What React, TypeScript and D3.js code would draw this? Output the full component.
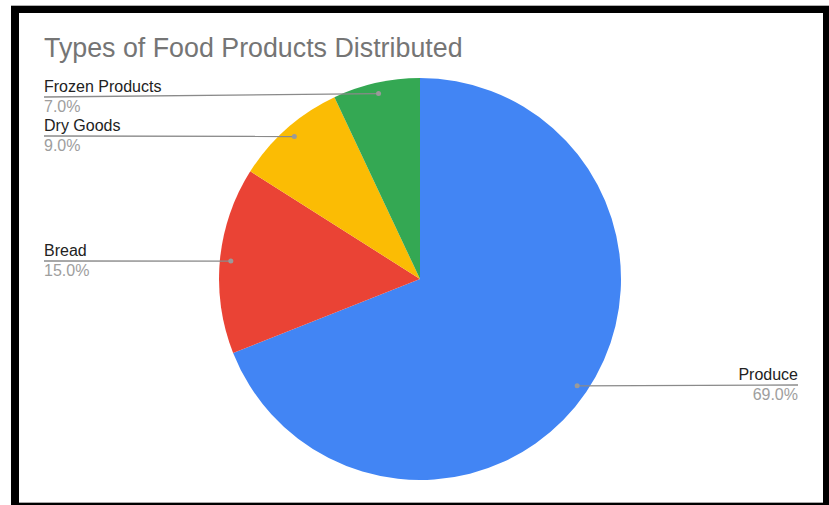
import React from "react";
import * as d3 from "d3";

const categories = ["Produce", "Bread", "Dry Goods", "Frozen Products"];
const values = [69, 15, 9, 7];
const colors = ["#4285F4", "#EA4335", "#FBBC04", "#34A853"];
const title = "Types of Food Products Distributed";

const W = 829;
const H = 505;
const cx = 420;
const cy = 279;
const R = 201;
const dotR = 190;

export default function App() {
  const total = d3.sum(values);
  const pie = d3.pie<number>().sort(null).value((d) => d)(values);
  const arc = d3.arc<d3.PieArcDatum<number>>().innerRadius(0).outerRadius(R);
  const font = "Arial, 'Liberation Sans', sans-serif";

  const labelLayout: Record<string, { side: "left" | "right"; lineY: number }> = {
    Produce: { side: "right", lineY: 385 },
    Bread: { side: "left", lineY: 261 },
    "Dry Goods": { side: "left", lineY: 136 },
    "Frozen Products": { side: "left", lineY: 97 },
  };

  return (
    <div style={{ position: "fixed", left: 0, top: 0 }}>
      <svg width={W} height={H} style={{ display: "block" }}>
        <rect x={0} y={0} width={W} height={H} fill="#fff" />
        <rect x={11} y={5} width={W - 11} height={1} fill="#b0b0b0" />
        <rect x={11} y={6} width={W - 11} height={H - 6} fill="#000" />
        <rect x={19} y={13} width={823 - 19} height={502 - 13} fill="#fff" />
        <rect x={19} y={502} width={823 - 19} height={1} fill="#a8a8a8" />
        <text x={44} y={57} fontFamily={font} fontSize={26.8} fill="#757575">
          {title}
        </text>
        <g transform={`translate(${cx},${cy})`}>
          {pie.map((p, i) => (
            <path key={categories[i]} d={arc(p) || ""} fill={colors[i]} />
          ))}
        </g>
        {pie.map((p, i) => {
          const mid = (p.startAngle + p.endAngle) / 2;
          const dx = cx + dotR * Math.sin(mid);
          const dy = cy - dotR * Math.cos(mid);
          const name = categories[i];
          const lay = labelLayout[name];
          const pct = ((values[i] / total) * 100).toFixed(1) + "%";
          if (lay.side === "left") {
            return (
              <g key={name}>
                <line x1={44} y1={lay.lineY} x2={dx} y2={dy} stroke="#8a8a8a" strokeWidth={1.3} />
                <circle cx={dx} cy={dy} r={2.5} fill="#9a9a9a" />
                <text x={44} y={lay.lineY - 5} fontFamily={font} fontSize={16} fill="#222">
                  {name}
                </text>
                <text x={44} y={lay.lineY + 15} fontFamily={font} fontSize={16} fill="#9e9e9e">
                  {pct}
                </text>
              </g>
            );
          }
          return (
            <g key={name}>
              <line x1={dx} y1={dy} x2={798} y2={lay.lineY} stroke="#8a8a8a" strokeWidth={1.3} />
              <circle cx={dx} cy={dy} r={2.5} fill="#9a9a9a" />
              <text x={798} y={lay.lineY - 5} textAnchor="end" fontFamily={font} fontSize={16} fill="#222">
                {name}
              </text>
              <text x={798} y={lay.lineY + 15} textAnchor="end" fontFamily={font} fontSize={16} fill="#9e9e9e">
                {pct}
              </text>
            </g>
          );
        })}
      </svg>
    </div>
  );
}
